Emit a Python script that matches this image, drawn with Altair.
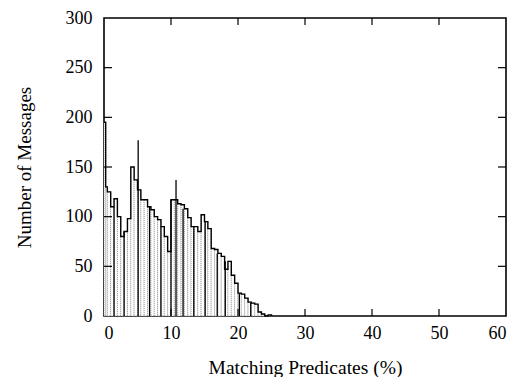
import altair as alt
import pandas as pd

# histogram bins (left edge, %) and counts
bin_start = [0.0, 0.25] + [0.5 * i for i in range(1, 50)]
counts = [195, 130,
          125, 110, 118, 100, 80, 85, 98, 150, 137, 127,
          117, 117, 110, 107, 100, 97, 90, 80, 65, 117,
          117, 113, 112, 108, 99, 90, 90, 85, 102, 95,
          88, 68, 67, 63, 60, 47, 55, 41, 33, 23,
          22, 18, 14, 13, 12, 4, 2, 0, 1]
bin_end = bin_start[1:] + [25.0]

# dark vertical strokes (drops / spikes)
drop_x = [1.5, 3.0, 5.1, 6.8, 8.5, 10.0, 10.75, 11.8, 13.4, 15.1, 16.9, 18.1, 20.2, 21.9]
drop_h = [110, 85, 177, 110, 90, 117, 137, 108, 90, 95, 63, 55, 23, 13]

x_ticks = [0, 10, 20, 30, 40, 50, 60]
y_ticks = [0, 50, 100, 150, 200, 250, 300]
x_inner = [10, 20, 30, 40, 50]
y_inner = [50, 100, 150, 200, 250]

W, H = 402, 298
FONT = "Liberation Serif"

xs = alt.Scale(domain=[0, 60], nice=False, zero=False)
ys = alt.Scale(domain=[0, 300], nice=False)

ax_x = alt.Axis(values=x_ticks, title="Matching Predicates (%)", grid=False,
                ticks=False, domain=False, labelFont=FONT, labelFontSize=18,
                labelColor="black", labelPadding=8, titleFont=FONT,
                titleFontSize=19.5, titleFontWeight="normal", titleColor="black",
                titlePadding=16)
ax_y = alt.Axis(values=y_ticks, title="Number of Messages", grid=False,
                ticks=False, domain=False, labelFont=FONT, labelFontSize=18,
                labelColor="black", labelPadding=12, titleFont=FONT,
                titleFontSize=19, titleFontWeight="normal", titleColor="black",
                titlePadding=31)

bins = pd.DataFrame({"x": bin_start, "x2": bin_end, "y": counts})
steps = pd.DataFrame({"x": bin_start + [25.0], "y": counts + [0]})
drops = pd.DataFrame({"x": drop_x, "y": drop_h})

rects = alt.Chart(bins).mark_rect(
    fill="white", stroke="#8a8a8a", strokeWidth=0.8, strokeDash=[1, 1]
).encode(
    x=alt.X("x:Q", scale=xs, axis=ax_x),
    x2="x2:Q",
    y=alt.Y("y:Q", scale=ys, axis=ax_y),
    y2=alt.datum(0),
)

drop_rules = alt.Chart(drops).mark_rule(color="black", strokeWidth=1.3).encode(
    x=alt.X("x:Q", scale=xs, axis=ax_x),
    y=alt.Y("y:Q", scale=ys, axis=ax_y),
    y2=alt.datum(0),
)

step_line = alt.Chart(steps).mark_line(
    interpolate="step-after", color="black", strokeWidth=1.4
).encode(
    x=alt.X("x:Q", scale=xs, axis=ax_x),
    y=alt.Y("y:Q", scale=ys, axis=ax_y),
)

xt = pd.DataFrame({"x": x_inner})
yt = pd.DataFrame({"y": y_inner})
tick_b = alt.Chart(xt).mark_rule(color="black", strokeWidth=1.2).encode(
    x=alt.X("x:Q", scale=xs, axis=ax_x), y=alt.value(H), y2=alt.value(H - 7))
tick_t = alt.Chart(xt).mark_rule(color="black", strokeWidth=1.2).encode(
    x=alt.X("x:Q", scale=xs, axis=ax_x), y=alt.value(0), y2=alt.value(7))
tick_l = alt.Chart(yt).mark_rule(color="black", strokeWidth=1.2).encode(
    y=alt.Y("y:Q", scale=ys, axis=ax_y), x=alt.value(0), x2=alt.value(8))
tick_r = alt.Chart(yt).mark_rule(color="black", strokeWidth=1.2).encode(
    y=alt.Y("y:Q", scale=ys, axis=ax_y), x=alt.value(W), x2=alt.value(W - 8))

chart = alt.layer(rects, drop_rules, step_line, tick_b, tick_t, tick_l, tick_r).properties(
    width=W, height=H,
    background="white",
    autosize=alt.AutoSizeParams(type="none"),
    padding={"left": 104, "top": 18, "right": 21, "bottom": 61},
).configure_view(stroke="black", strokeWidth=1.6)

chart.save("out.html", embed_options={"renderer": "svg", "actions": False})
